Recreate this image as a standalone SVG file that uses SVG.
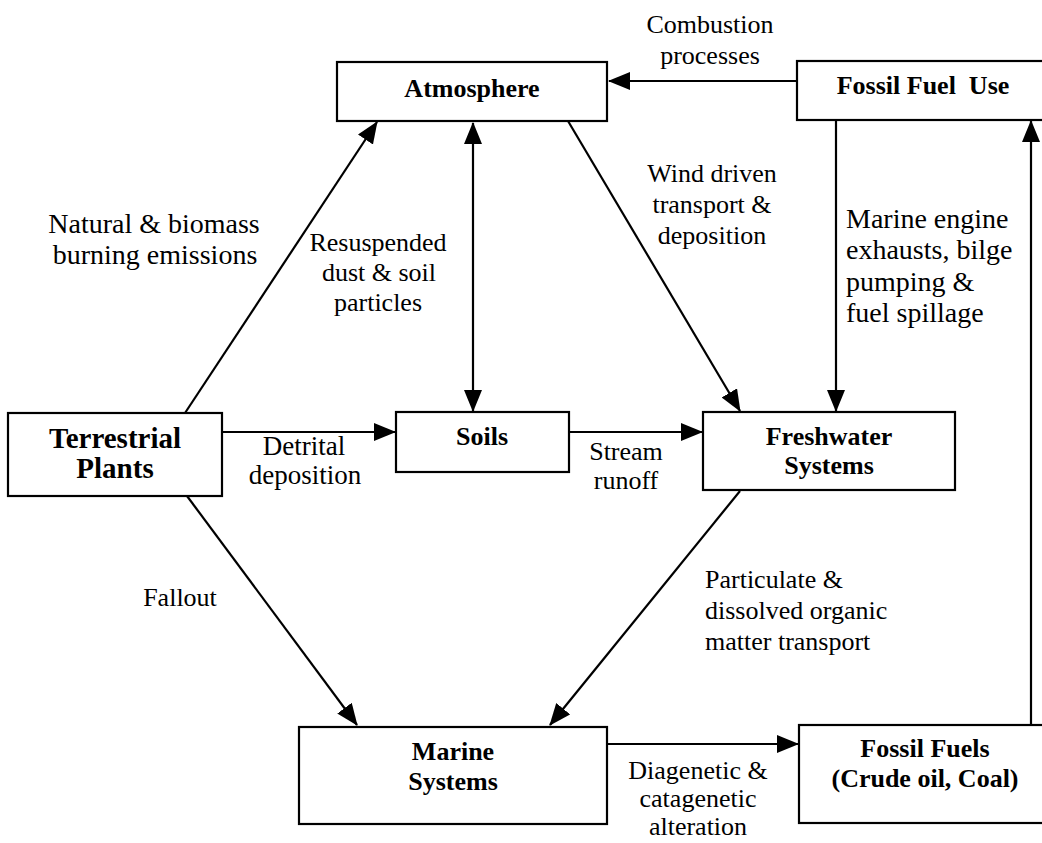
<svg xmlns="http://www.w3.org/2000/svg" width="1042" height="843" viewBox="0 0 1042 843">
<style>
text{font-family:'Liberation Serif','DejaVu Serif',serif;fill:#000}
.box{fill:#fff;stroke:#000;stroke-width:2.2}
.lbl{font-size:26px}
.big{font-size:28px}
.nd{font-size:26px;font-weight:bold;text-anchor:middle}
.c{text-anchor:middle}
.ln{stroke:#000;stroke-width:2.2;fill:none}
</style>
<defs>
<marker id="ah" markerUnits="userSpaceOnUse" markerWidth="22" markerHeight="18" refX="21" refY="9" orient="auto-start-reverse">
<path d="M0,0 L22,9 L0,18 z" fill="#000"/>
</marker>
</defs>
<rect width="1042" height="843" fill="#fff"/>
<g id="connectors">
<line class="ln" x1="797" y1="81" x2="609" y2="81" marker-end="url(#ah)"/>
<line class="ln" x1="185" y1="413" x2="377" y2="122" marker-end="url(#ah)"/>
<line class="ln" x1="473" y1="123" x2="473" y2="411" marker-start="url(#ah)" marker-end="url(#ah)"/>
<line class="ln" x1="568" y1="121" x2="740" y2="411" marker-end="url(#ah)"/>
<line class="ln" x1="836" y1="120" x2="836" y2="411" marker-end="url(#ah)"/>
<line class="ln" x1="222" y1="432" x2="395" y2="432" marker-end="url(#ah)"/>
<line class="ln" x1="569" y1="432" x2="702" y2="432" marker-end="url(#ah)"/>
<line class="ln" x1="187" y1="496" x2="357" y2="725" marker-end="url(#ah)"/>
<line class="ln" x1="740" y1="491" x2="550" y2="725" marker-end="url(#ah)"/>
<line class="ln" x1="607" y1="744" x2="798" y2="744" marker-end="url(#ah)"/>
<line class="ln" x1="1031" y1="725" x2="1031" y2="121" marker-end="url(#ah)"/>
</g>
<g id="labels">
<text class="lbl c" x="710" y="33">Combustion</text>
<text class="lbl c" x="710" y="64">processes</text>
<text class="lbl big c" x="154" y="233">Natural &amp; biomass</text>
<text class="lbl big c" x="155" y="264">burning emissions</text>
<text class="lbl c" x="378" y="251">Resuspended</text>
<text class="lbl c" x="379" y="281">dust &amp; soil</text>
<text class="lbl c" x="378" y="311">particles</text>
<text class="lbl c" x="712" y="182">Wind driven</text>
<text class="lbl c" x="712" y="213">transport &amp;</text>
<text class="lbl c" x="712" y="244">deposition</text>
<text class="lbl big" x="846" y="228">Marine engine</text>
<text class="lbl big" x="846" y="259">exhausts, bilge</text>
<text class="lbl big" x="846" y="291">pumping &amp;</text>
<text class="lbl big" x="846" y="322">fuel spillage</text>
<text class="lbl c" x="304" y="455" style="font-size:27px">Detrital</text>
<text class="lbl c" x="305" y="484" style="font-size:27px">deposition</text>
<text class="lbl c" x="626" y="460">Stream</text>
<text class="lbl c" x="626" y="489">runoff</text>
<text class="lbl c" x="180" y="606">Fallout</text>
<text class="lbl" x="705" y="588">Particulate &amp;</text>
<text class="lbl" x="705" y="619">dissolved organic</text>
<text class="lbl" x="705" y="650">matter transport</text>
<text class="lbl c" x="698" y="779">Diagenetic &amp;</text>
<text class="lbl c" x="698" y="807">catagenetic</text>
<text class="lbl c" x="698" y="835">alteration</text>
</g>
<g id="atmosphere">
<rect class="box" x="337" y="62" width="270" height="59"/>
<text class="nd" x="472" y="97">Atmosphere</text>
</g>
<g id="fossil-fuel-use">
<rect class="box" x="797" y="61" width="260" height="59"/>
<text class="nd" x="923" y="94" xml:space="preserve">Fossil Fuel  Use</text>
</g>
<g id="terrestrial-plants">
<rect class="box" x="8" y="413" width="214" height="83"/>
<text class="nd" x="115" y="448" style="font-size:29px">Terrestrial</text>
<text class="nd" x="115" y="478" style="font-size:29px">Plants</text>
</g>
<g id="soils">
<rect class="box" x="396" y="412" width="173" height="60"/>
<text class="nd" x="482" y="445">Soils</text>
</g>
<g id="freshwater-systems">
<rect class="box" x="703" y="412" width="252" height="78"/>
<text class="nd" x="829" y="445">Freshwater</text>
<text class="nd" x="829" y="474">Systems</text>
</g>
<g id="marine-systems">
<rect class="box" x="299" y="727" width="308" height="97"/>
<text class="nd" x="453" y="760">Marine</text>
<text class="nd" x="453" y="790">Systems</text>
</g>
<g id="fossil-fuels">
<rect class="box" x="799" y="725" width="260" height="98"/>
<text class="nd" x="925" y="757">Fossil Fuels</text>
<text class="nd" x="925" y="787">(Crude oil, Coal)</text>
</g>
</svg>
